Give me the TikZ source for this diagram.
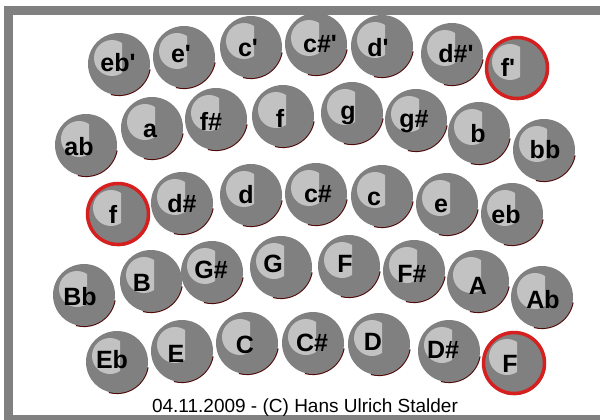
\documentclass[tikz,border=0pt]{standalone}
\usepackage{fontspec}
\setmainfont{Liberation Sans}
\newcommand\apo{\textquotesingle}
\definecolor{btngray}{RGB}{128,128,128}
\definecolor{btnlight}{RGB}{194,194,194}
\definecolor{framegray}{RGB}{128,128,128}
\definecolor{shade}{RGB}{80,10,10}
\definecolor{ringred}{RGB}{214,32,32}
\tikzset{
  btn/.style={circle, fill=btngray, minimum size=62pt, inner sep=0pt},
  lbl/.style={anchor=base, inner sep=0pt, font=\bfseries\fontsize{25}{25}\selectfont},
  ring/.style={draw=ringred, line width=3.5pt},
  shadowarc/.style={draw=shade, line width=1.8pt},
  foot/.style={anchor=base, inner sep=0pt, font=\fontsize{19}{19}\selectfont}
}
\begin{document}
\begin{tikzpicture}[x=1pt,y=-1pt]
\useasboundingbox (0,0) rectangle (600,420);
\fill[white] (0,0) rectangle (600,420);
\fill[framegray] (4,6) rectangle (600,420);
\fill[white] (13,15) rectangle (600,415);
\foreach \id/\cx/\cy/\t/\tx/\ty in {
 a1/119/64/eb\apo/118/72, a2/184/57/e\apo/181/63, a3/251/47/c\apo/248/57,
 a4/316/44/c\#\apo/320/53, a5/382/46/d\apo/378/57, a6/452/54/d\#\apo/456/63,
 a7/517/68/f\apo/508/77,
 b1/86/145/ab/79/155, b2/152/128/a/150/137, b3/216/119/f\#/211/130,
 b4/283/116/f/280/127, b5/352/113/g/348/119, b6/416/120/g\#/414/127,
 b7/479/133/b/478/142, b8/544/150/bb/545/158,
 c1/118/214/f/113/223, c2/182/203/d\#/182/212, c3/251/195/d/246/203,
 c4/316/194/c\#/318/202, c5/382/196/c/374/205, c6/447/204/e/441/212,
 c7/512/214/eb/506/223,
 d1/84/295/Bb/80/305, d2/151/281/B/142/291, d3/212/272/G\#/211/278,
 d4/281/267/G/273/272, d5/349/266/F/345/272, d6/414/271/F\#/412/282,
 d7/478/281/A/478/294, d8/542/297/Ab/543/308,
 e1/117/362/Eb/112/368, e2/182/351/E/176/362, e3/247/343/C/245/353,
 e4/313/343/C\#/312/351, e5/379/344/D/373/350, e6/449/351/D\#/443/358,
 e7/514/363/F/510/372}
{
  \draw[shadowarc] ([shift={(\cx,\cy)}]10:31.2) arc[start angle=10, end angle=105, radius=31.2];
  \node[btn] (k-\id) at (\cx,\cy) {};
  \begin{scope}
    \clip (\cx-40,\cy-40) rectangle (\cx+3,\cy+40);
    \fill[btnlight] (\cx-7,\cy-6) circle (18);
  \end{scope}
  \node[lbl] (t-\id) at (\tx,\ty) {\t};
}
\foreach \id in {a7,c1,e7}{
  \draw[ring] (k-\id.center) circle (30.5);
}
\node[foot] (footer) at (305,412) {04.11.2009 - (C) Hans Ulrich Stalder};
\end{tikzpicture}
\end{document}
